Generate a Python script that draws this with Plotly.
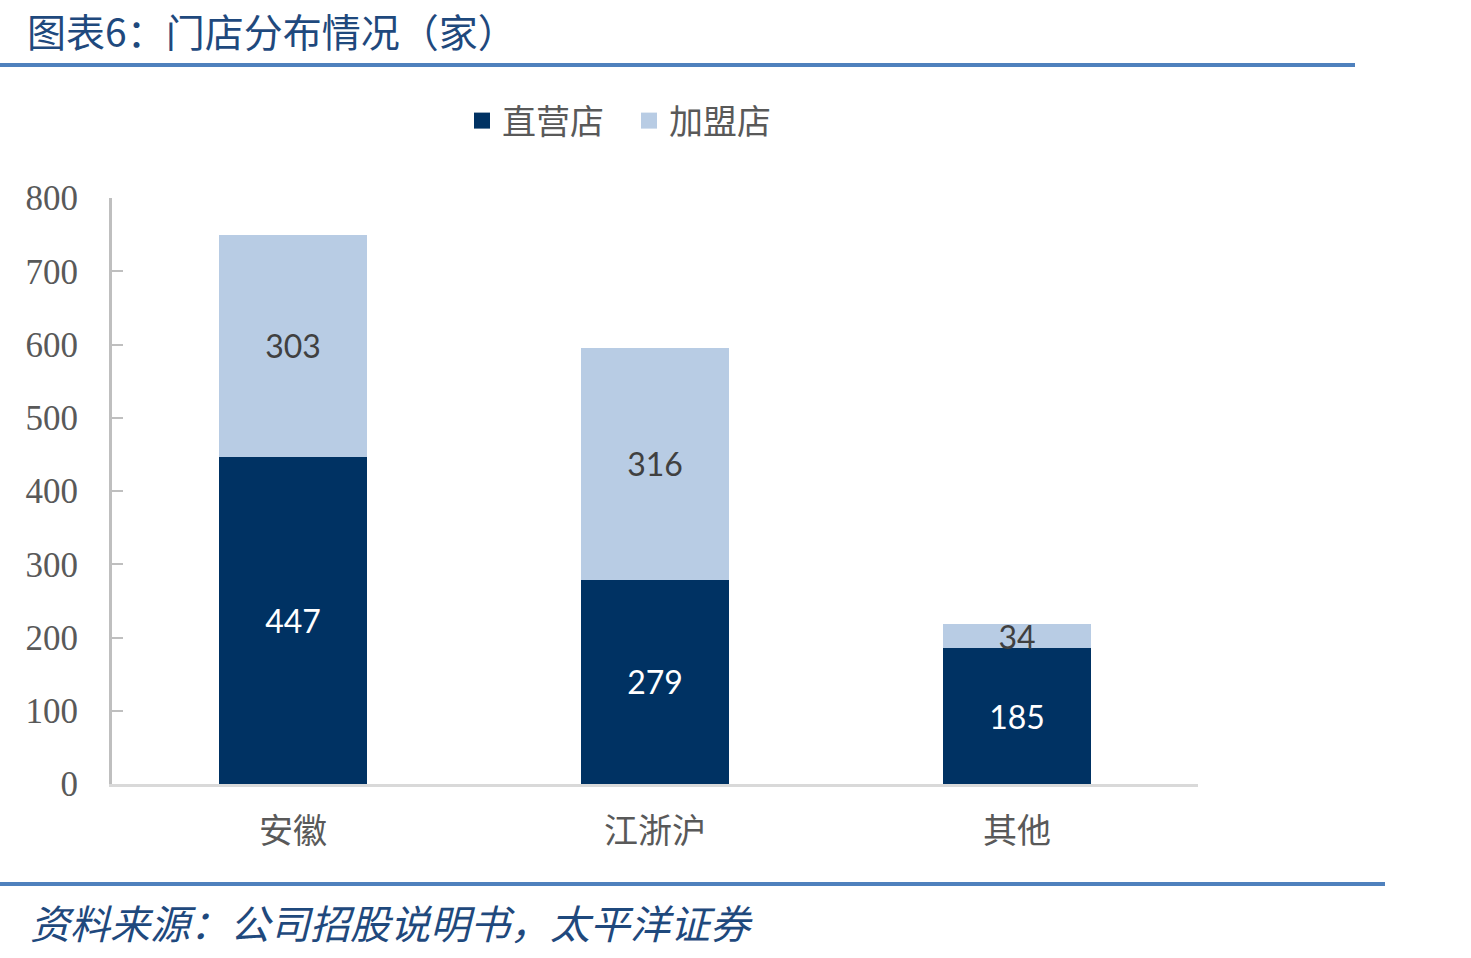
import plotly.graph_objects as go

categories = ["安徽", "江浙沪", "其他"]
direct = [447, 279, 185]
franchise = [303, 316, 34]
series_names = ["直营店", "加盟店"]
colors = ["#003263", "#b8cce4"]
y_ticks = [0, 100, 200, 300, 400, 500, 600, 700, 800]

title_text = "图表6：门店分布情况（家）"
source_text = "资料来源：公司招股说明书，太平洋证券"

W, H = 1471, 958
L, R, T, B = 112, 273, 198, 174
pw = W - L - R
ph = H - T - B

def px(x):
    return (x - L) / pw

def py(y):
    return (H - B - y) / ph

cjk = "Noto Sans CJK SC"
num_font = "Lato, Carlito, sans-serif"
fig = go.Figure()
fig.add_trace(go.Bar(
    x=categories, y=direct, name=series_names[0], showlegend=False,
    marker=dict(color=colors[0], line=dict(width=0)),
    text=[str(v) for v in direct], textposition="inside", insidetextanchor="middle",
    textangle=0, constraintext="none",
    textfont=dict(family=num_font, size=32, color="#ffffff"),
    width=0.41,
))
fig.add_trace(go.Bar(
    x=categories, y=franchise, name=series_names[1], showlegend=False,
    marker=dict(color=colors[1], line=dict(width=0)),
    text=[str(v) for v in franchise], textposition="inside", insidetextanchor="middle",
    textangle=0, constraintext="none",
    textfont=dict(family=num_font, size=32, color="#404040"),
    width=0.41,
))
# legend entries
for name, c in zip(series_names, colors):
    fig.add_trace(go.Scatter(
        x=[None], y=[None], mode="markers", name=name,
        marker=dict(symbol="square", size=20, color=c),
    ))

fig.update_layout(
    width=W, height=H,
    barmode="stack",
    plot_bgcolor="white", paper_bgcolor="white",
    margin=dict(l=L, r=R, t=T, b=B, autoexpand=False),
    showlegend=True,
    legend=dict(orientation="h", x=px(462), y=py(121), xanchor="left", yanchor="middle",
                font=dict(family=cjk, size=34, color="#595959"),
                itemwidth=30, traceorder="normal", tracegroupgap=0,
                entrywidth=122, entrywidthmode="pixels",
                bgcolor="rgba(0,0,0,0)"),
    xaxis=dict(showline=True, linecolor="#d9d9d9", linewidth=3, ticks="",
               tickfont=dict(family=cjk, size=34, color="#595959"),
               showgrid=False, zeroline=False, ticklabelstandoff=15),
    yaxis=dict(range=[0, 800], tickvals=y_ticks, ticktext=[str(v) for v in y_ticks],
               showline=True, linecolor="#bfbfbf", linewidth=3,
               ticks="inside", ticklen=11, tickwidth=2, tickcolor="#bfbfbf",
               tickfont=dict(family="Liberation Serif, Times New Roman, serif", size=35, color="#595959"),
               showgrid=False, zeroline=False, ticklabelstandoff=24),
    bargap=0.59,
)

fig.add_shape(type="line", xref="paper", yref="paper",
              x0=px(0), x1=px(1355), y0=py(65), y1=py(65),
              line=dict(color="#4f81bd", width=4))
fig.add_shape(type="line", xref="paper", yref="paper",
              x0=px(0), x1=px(1385), y0=py(884), y1=py(884),
              line=dict(color="#4f81bd", width=4))

fig.add_annotation(text=title_text, xref="paper", yref="paper",
                   x=px(25), y=py(30), xanchor="left", yanchor="middle",
                   showarrow=False, font=dict(family=cjk, size=39, color="#1f497d"))
fig.add_annotation(text="<i>" + source_text + "</i>", xref="paper", yref="paper",
                   x=px(28), y=py(922), xanchor="left", yanchor="middle",
                   showarrow=False, font=dict(family=cjk, size=40, color="#1f497d"))

fig.write_html("out.html")
